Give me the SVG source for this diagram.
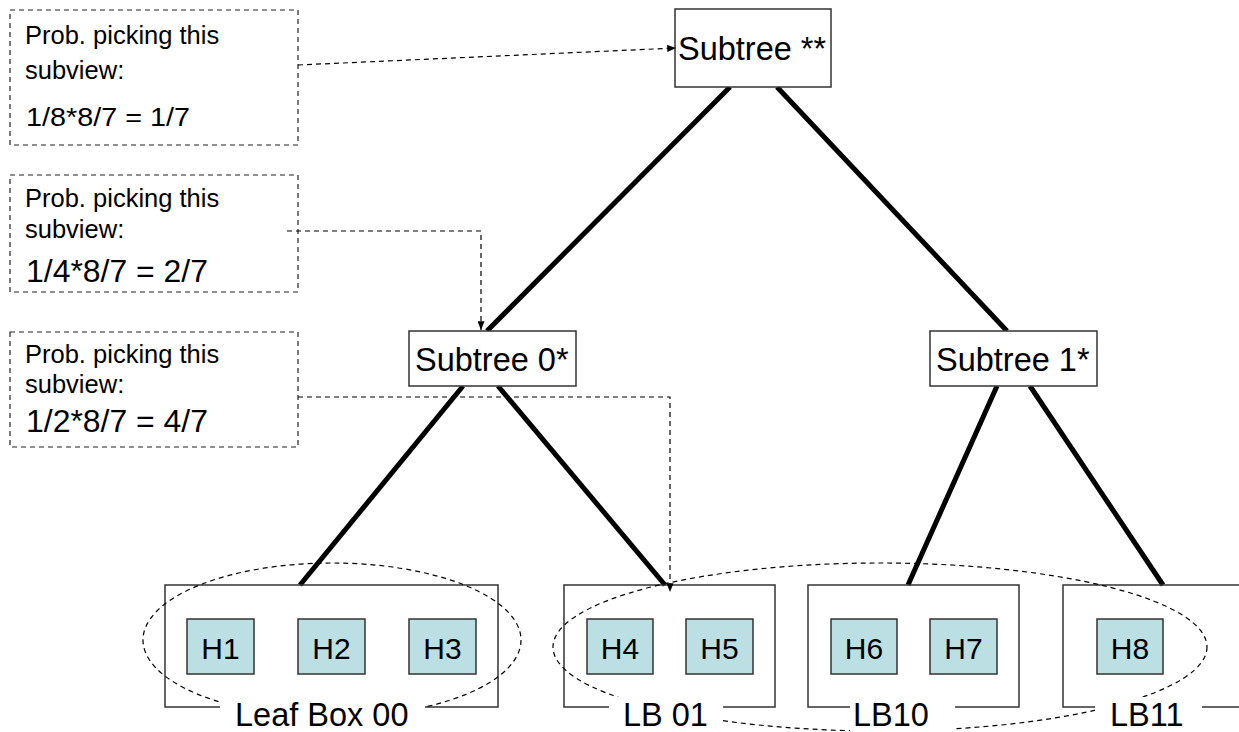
<svg xmlns="http://www.w3.org/2000/svg" width="1239" height="732" viewBox="0 0 1239 732">
  <style>
    text { font-family: "Liberation Sans", Arial, sans-serif; fill: #000; }
    .note { fill: none; stroke: #222; stroke-width: 1.2; stroke-dasharray: 5 4; }
    .node { fill: #fff; stroke: #333; stroke-width: 1.5; }
    .leaf { fill: none; stroke: #333; stroke-width: 1.5; }
    .host { fill: #BBDFE3; stroke: #333; stroke-width: 1.5; }
    .edge { stroke: #000; stroke-width: 5; fill: none; }
    .ptr { stroke: #000; stroke-width: 1.2; stroke-dasharray: 5 4; fill: none; }
    .ring { stroke: #000; stroke-width: 1.2; stroke-dasharray: 5 4; fill: none; }
    .small { font-size: 25.5px; }
    .big { font-size: 32.5px; }
    .hl { font-size: 30px; text-anchor: middle; }
    .mask { fill: #fff; }
  </style>
  <defs>
    <marker id="arrow" viewBox="0 0 10 8" refX="10" refY="4" markerWidth="9" markerHeight="7" markerUnits="userSpaceOnUse" orient="auto">
      <path d="M0,0 L10,4 L0,8 Z" fill="#000"/>
    </marker>
  </defs>

  <!-- tree edges -->
  <g id="edges">
    <line class="edge" x1="730" y1="87" x2="487" y2="331"/>
    <line class="edge" x1="777" y1="87" x2="1007" y2="331"/>
    <line class="edge" x1="463" y1="386" x2="300" y2="585"/>
    <line class="edge" x1="498" y1="386" x2="665" y2="585"/>
    <line class="edge" x1="997" y1="386" x2="908" y2="585"/>
    <line class="edge" x1="1030" y1="386" x2="1163" y2="585"/>
  </g>

  <!-- probability notes -->
  <g id="note-root">
    <rect class="note" x="10" y="10" width="288" height="135"/>
    <text class="small" x="25" y="44">Prob. picking this</text>
    <text class="small" x="25" y="79">subview:</text>
    <text x="26" y="126" font-size="25" textLength="164" lengthAdjust="spacingAndGlyphs">1/8*8/7 = 1/7</text>
  </g>
  <g id="note-0">
    <rect class="note" x="10" y="175" width="288" height="117"/>
    <text class="small" x="25" y="207">Prob. picking this</text>
    <text class="small" x="25" y="238">subview:</text>
    <text x="26" y="282" font-size="31" textLength="182" lengthAdjust="spacingAndGlyphs">1/4*8/7 = 2/7</text>
  </g>
  <g id="note-leaf">
    <rect class="note" x="10" y="332" width="288" height="115"/>
    <text class="small" x="25" y="363">Prob. picking this</text>
    <text class="small" x="25" y="393">subview:</text>
    <text x="26" y="432" font-size="31" textLength="182" lengthAdjust="spacingAndGlyphs">1/2*8/7 = 4/7</text>
  </g>

  <!-- subtree nodes -->
  <g id="subtree-root">
    <rect class="node" x="675" y="9" width="156" height="78"/>
    <text class="big" x="678" y="60">Subtree **</text>
  </g>
  <g id="subtree-0">
    <rect class="node" x="409" y="331" width="167" height="55"/>
    <text class="big" x="415" y="371">Subtree 0*</text>
  </g>
  <g id="subtree-1">
    <rect class="node" x="930" y="331" width="167" height="55"/>
    <text class="big" x="936" y="371">Subtree 1*</text>
  </g>

  <!-- leaf boxes -->
  <g id="leaf-00">
    <rect class="leaf" x="165" y="585" width="333" height="122"/>
    <rect class="host" x="187" y="619" width="67" height="55"/>
    <text class="hl" x="220.5" y="659">H1</text>
    <rect class="host" x="298" y="619" width="67" height="55"/>
    <text class="hl" x="331.5" y="659">H2</text>
    <rect class="host" x="409" y="619" width="67" height="55"/>
    <text class="hl" x="442.5" y="659">H3</text>
  </g>
  <g id="leaf-01">
    <rect class="leaf" x="564" y="585" width="211" height="122"/>
    <rect class="host" x="587" y="619" width="66" height="55"/>
    <text class="hl" x="620" y="659">H4</text>
    <rect class="host" x="686" y="619" width="67" height="55"/>
    <text class="hl" x="719.5" y="659">H5</text>
  </g>
  <g id="leaf-10">
    <rect class="leaf" x="808" y="585" width="211" height="122"/>
    <rect class="host" x="831" y="619" width="66" height="55"/>
    <text class="hl" x="864" y="659">H6</text>
    <rect class="host" x="930" y="619" width="67" height="55"/>
    <text class="hl" x="963.5" y="659">H7</text>
  </g>
  <g id="leaf-11">
    <rect class="leaf" x="1063" y="585" width="200" height="122"/>
    <rect class="host" x="1097" y="619" width="66" height="55"/>
    <text class="hl" x="1130" y="659">H8</text>
  </g>

  <!-- subview rings -->
  <g id="rings">
    <ellipse class="ring" cx="332" cy="640" rx="189" ry="77"/>
    <ellipse class="ring" cx="880" cy="647" rx="327" ry="84"/>
  </g>

  <!-- leaf box labels -->
  <g id="labels">
    <rect class="mask" x="220" y="697" width="205" height="35"/>
    <text class="big" x="235" y="726">Leaf Box 00</text>
    <rect class="mask" x="609" y="697" width="114" height="35"/>
    <text class="big" x="623" y="726">LB 01</text>
    <rect class="mask" x="850" y="697" width="105" height="35"/>
    <text class="big" x="853" y="726">LB10</text>
    <rect class="mask" x="1095" y="697" width="107" height="35"/>
    <text class="big" x="1110" y="726">LB11</text>
  </g>

  <!-- pointers from notes to subviews -->
  <g id="pointers">
    <line class="ptr" x1="298" y1="65" x2="676" y2="48" marker-end="url(#arrow)"/>
    <polyline class="ptr" points="287,231 481,231 481,330" marker-end="url(#arrow)"/>
    <polyline class="ptr" points="298,397 670,397 670,592" marker-end="url(#arrow)"/>
  </g>
</svg>
